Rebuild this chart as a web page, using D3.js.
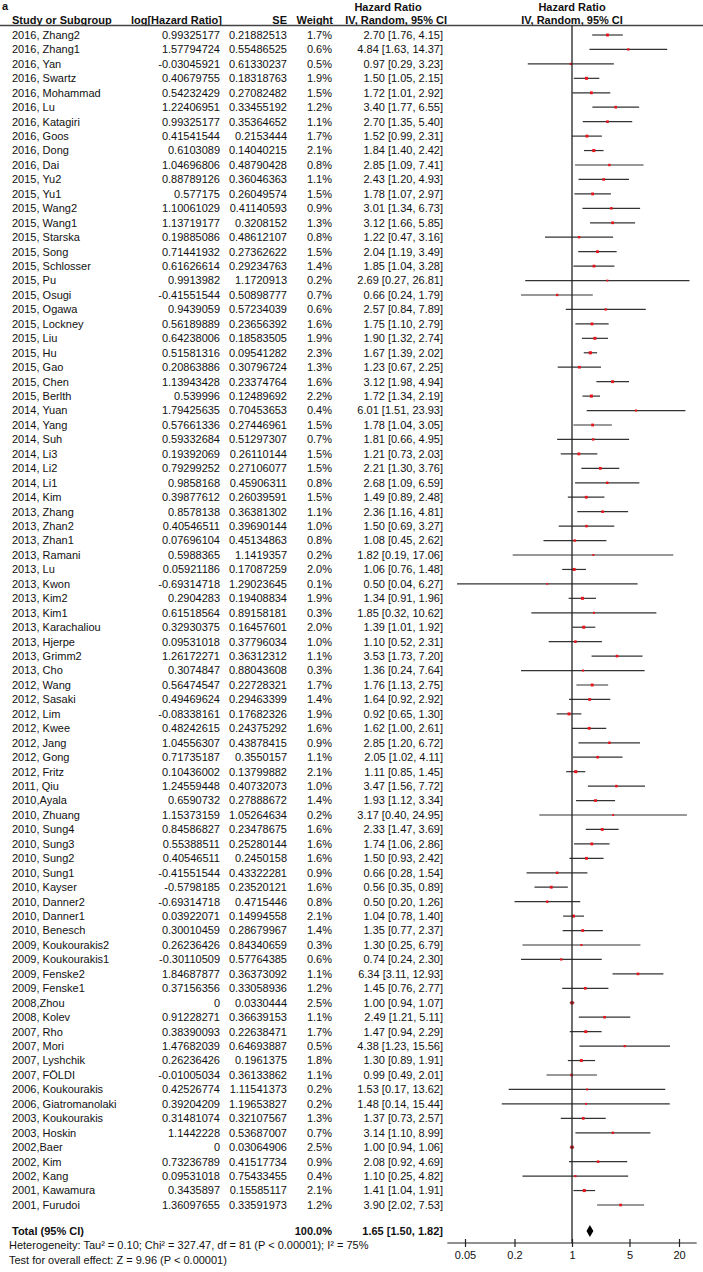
<!DOCTYPE html>
<html>
<head>
<meta charset="utf-8">
<script src="https://cdn.jsdelivr.net/npm/d3@7"></script>
<style>
  body { margin: 0; background: #fff; }
  text { font-family: "Liberation Sans", Arial, sans-serif; font-size: 11px; fill: #111; }
  .bold { font-weight: bold; }
</style>
</head>
<body>
<div id="chart"></div>
<script>
// study data
const studies = [
  "2016, Zhang2", "2016, Zhang1", "2016, Yan", "2016, Swartz", "2016, Mohammad", "2016, Lu",
  "2016, Katagiri", "2016, Goos", "2016, Dong", "2016, Dai", "2015, Yu2", "2015, Yu1",
  "2015, Wang2", "2015, Wang1", "2015, Starska", "2015, Song", "2015, Schlosser", "2015, Pu",
  "2015, Osugi", "2015, Ogawa", "2015, Lockney", "2015, Liu", "2015, Hu", "2015, Gao",
  "2015, Chen", "2015, Berlth", "2014, Yuan", "2014, Yang", "2014, Suh", "2014, Li3",
  "2014, Li2", "2014, Li1", "2014, Kim", "2013, Zhang", "2013, Zhan2", "2013, Zhan1",
  "2013, Ramani", "2013, Lu", "2013, Kwon", "2013, Kim2", "2013, Kim1", "2013, Karachaliou",
  "2013, Hjerpe", "2013, Grimm2", "2013, Cho", "2012, Wang", "2012, Sasaki", "2012, Lim",
  "2012, Kwee", "2012, Jang", "2012, Gong", "2012, Fritz", "2011, Qiu", "2010,Ayala",
  "2010, Zhuang", "2010, Sung4", "2010, Sung3", "2010, Sung2", "2010, Sung1", "2010, Kayser",
  "2010, Danner2", "2010, Danner1", "2010, Benesch", "2009, Koukourakis2", "2009, Koukourakis1",
  "2009, Fenske2", "2009, Fenske1", "2008,Zhou", "2008, Kolev", "2007, Rho", "2007, Mori",
  "2007, Lyshchik", "2007, FÖLDI", "2006, Koukourakis", "2006, Giatromanolaki",
  "2003, Koukourakis", "2003, Hoskin", "2002,Baer", "2002, Kim", "2002, Kang",
  "2001, Kawamura", "2001, Furudoi"
];
const logHR = [
  0.99325177, 1.57794724, -0.03045921, 0.40679755, 0.54232429, 1.22406951,
  0.99325177, 0.41541544, 0.6103089, 1.04696806, 0.88789126, 0.577175,
  1.10061029, 1.13719177, 0.19885086, 0.71441932, 0.61626614, 0.9913982,
  -0.41551544, 0.9439059, 0.56189889, 0.64238006, 0.51581316, 0.20863886,
  1.13943428, 0.539996, 1.79425635, 0.57661336, 0.59332684, 0.19392069,
  0.79299252, 0.9858168, 0.39877612, 0.8578138, 0.40546511, 0.07696104,
  0.5988365, 0.05921186, -0.69314718, 0.2904283, 0.61518564, 0.32930375,
  0.09531018, 1.26172271, 0.3074847, 0.56474547, 0.49469624, -0.08338161,
  0.48242615, 1.04556307, 0.71735187, 0.10436002, 1.24559448, 0.6590732,
  1.15373159, 0.84586827, 0.55388511, 0.40546511, -0.41551544, -0.5798185,
  -0.69314718, 0.03922071, 0.30010459, 0.26236426, -0.30110509,
  1.84687877, 0.37156356, 0, 0.91228271, 0.38390093, 1.47682039,
  0.26236426, -0.01005034, 0.42526774, 0.39204209,
  0.31481074, 1.1442228, 0, 0.73236789, 0.09531018,
  0.3435897, 1.36097655
];
const se = [
  0.21882513, 0.55486525, 0.61330237, 0.18318763, 0.27082482, 0.33455192,
  0.35364652, 0.2153444, 0.14040215, 0.48790428, 0.36046363, 0.26049574,
  0.41140593, 0.3208152, 0.48612107, 0.27362622, 0.29234763, 1.1720913,
  0.50898777, 0.57234039, 0.23656392, 0.18583505, 0.09541282, 0.30796724,
  0.23374764, 0.12489692, 0.70453653, 0.27446961, 0.51297307, 0.26110144,
  0.27106077, 0.45906311, 0.26039591, 0.36381302, 0.39690144, 0.45134863,
  1.1419357, 0.17087259, 1.29023645, 0.19408834, 0.89158181, 0.16457601,
  0.37796034, 0.36312312, 0.88043608, 0.22728321, 0.29463399, 0.17682326,
  0.24375292, 0.43878415, 0.3550157, 0.13799882, 0.40732073, 0.27888672,
  1.05264634, 0.23478675, 0.25280144, 0.2450158, 0.43322281, 0.23520121,
  0.4715446, 0.14994558, 0.28679967, 0.84340659, 0.57764385,
  0.36373092, 0.33058936, 0.0330444, 0.36639153, 0.22638471, 0.64693887,
  0.1961375, 0.36133862, 1.11541373, 1.19653827,
  0.32107567, 0.53687007, 0.03064906, 0.41517734, 0.75433455,
  0.15585117, 0.33591973
];
const weight = [
  1.7, 0.6, 0.5, 1.9, 1.5, 1.2, 1.1, 1.7, 2.1, 0.8, 1.1, 1.5,
  0.9, 1.3, 0.8, 1.5, 1.4, 0.2, 0.7, 0.6, 1.6, 1.9, 2.3, 1.3,
  1.6, 2.2, 0.4, 1.5, 0.7, 1.5, 1.5, 0.8, 1.5, 1.1, 1.0, 0.8,
  0.2, 2.0, 0.1, 1.9, 0.3, 2.0, 1.0, 1.1, 0.3, 1.7, 1.4, 1.9,
  1.6, 0.9, 1.1, 2.1, 1.0, 1.4, 0.2, 1.6, 1.6, 1.6, 0.9, 1.6,
  0.8, 2.1, 1.4, 0.3, 0.6, 1.1, 1.2, 2.5, 1.1, 1.7, 0.5,
  1.8, 1.1, 0.2, 0.2, 1.3, 0.7, 2.5, 0.9, 0.4, 2.1, 1.2
];
const hr = [
  2.70, 4.84, 0.97, 1.50, 1.72, 3.40, 2.70, 1.52, 1.84, 2.85, 2.43, 1.78,
  3.01, 3.12, 1.22, 2.04, 1.85, 2.69, 0.66, 2.57, 1.75, 1.90, 1.67, 1.23,
  3.12, 1.72, 6.01, 1.78, 1.81, 1.21, 2.21, 2.68, 1.49, 2.36, 1.50, 1.08,
  1.82, 1.06, 0.50, 1.34, 1.85, 1.39, 1.10, 3.53, 1.36, 1.76, 1.64, 0.92,
  1.62, 2.85, 2.05, 1.11, 3.47, 1.93, 3.17, 2.33, 1.74, 1.50, 0.66, 0.56,
  0.50, 1.04, 1.35, 1.30, 0.74, 6.34, 1.45, 1.00, 2.49, 1.47, 4.38,
  1.30, 0.99, 1.53, 1.48, 1.37, 3.14, 1.00, 2.08, 1.10, 1.41, 3.90
];
const ciLow = [
  1.76, 1.63, 0.29, 1.05, 1.01, 1.77, 1.35, 0.99, 1.40, 1.09, 1.20, 1.07,
  1.34, 1.66, 0.47, 1.19, 1.04, 0.27, 0.24, 0.84, 1.10, 1.32, 1.39, 0.67,
  1.98, 1.34, 1.51, 1.04, 0.66, 0.73, 1.30, 1.09, 0.89, 1.16, 0.69, 0.45,
  0.19, 0.76, 0.04, 0.91, 0.32, 1.01, 0.52, 1.73, 0.24, 1.13, 0.92, 0.65,
  1.00, 1.20, 1.02, 0.85, 1.56, 1.12, 0.40, 1.47, 1.06, 0.93, 0.28, 0.35,
  0.20, 0.78, 0.77, 0.25, 0.24, 3.11, 0.76, 0.94, 1.21, 0.94, 1.23,
  0.89, 0.49, 0.17, 0.14, 0.73, 1.10, 0.94, 0.92, 0.25, 1.04, 2.02
];
const ciHigh = [
  4.15, 14.37, 3.23, 2.15, 2.92, 6.55, 5.40, 2.31, 2.42, 7.41, 4.93, 2.97,
  6.73, 5.85, 3.16, 3.49, 3.28, 26.81, 1.79, 7.89, 2.79, 2.74, 2.02, 2.25,
  4.94, 2.19, 23.93, 3.05, 4.95, 2.03, 3.76, 6.59, 2.48, 4.81, 3.27, 2.62,
  17.06, 1.48, 6.27, 1.96, 10.62, 1.92, 2.31, 7.20, 7.64, 2.75, 2.92, 1.30,
  2.61, 6.72, 4.11, 1.45, 7.72, 3.34, 24.95, 3.69, 2.86, 2.42, 1.54, 0.89,
  1.26, 1.40, 2.37, 6.79, 2.30, 12.93, 2.77, 1.07, 5.11, 2.29, 15.56,
  1.91, 2.01, 13.62, 15.44, 2.57, 8.99, 1.06, 4.69, 4.82, 1.91, 7.53
];

// pooled result
const totalHR = 1.65, totalLow = 1.50, totalHigh = 1.82, totalWeight = 100.0;
const xTicks = [0.05, 0.2, 1, 5, 20];
const heterogeneity = "Heterogeneity: Tau² = 0.10; Chi² = 327.47, df = 81 (P < 0.00001); I² = 75%";
const overallTest = "Test for overall effect: Z = 9.96 (P < 0.00001)";

const width = 703, height = 1272;
const svg = d3.select('#chart').append('svg')
  .attr('width', width)
  .attr('height', height);

const rowY = d3.scaleLinear().domain([0, studies.length - 1]).range([35, 1205]);
const x = d3.scaleLog().domain([0.05, 20]).range([465, 679]);
const boxSize = d3.scaleSqrt().domain([0, 2.5]).range([1.4, 3.2]);
const fmt2 = d3.format('.2f');
const ciText = (m, l, h) => fmt2(m) + ' [' + fmt2(l) + ', ' + fmt2(h) + ']';

const totalY = 1231;
const axisY = 1243;

// headers
svg.append('text').attr('class', 'bold').attr('x', 2).attr('y', 10)
  .text('a');
svg.append('text').attr('class', 'bold').attr('x', 388).attr('y', 11)
  .attr('text-anchor', 'middle').text('Hazard Ratio');
svg.append('text').attr('class', 'bold').attr('x', x(1)).attr('y', 11)
  .attr('text-anchor', 'middle').text('Hazard Ratio');

const head = [
  { t: 'Study or Subgroup', x: 12, a: 'start' },
  { t: 'log[Hazard Ratio]', x: 222, a: 'end' },
  { t: 'SE', x: 287, a: 'end' },
  { t: 'Weight', x: 333, a: 'end' },
  { t: 'IV, Random, 95% CI', x: 447, a: 'end' },
  { t: 'IV, Random, 95% CI', x: x(1), a: 'middle' }
];
svg.selectAll('.head').data(head).enter().append('text')
  .attr('class', 'head bold')
  .attr('x', d => d.x).attr('y', 23.5)
  .attr('text-anchor', d => d.a)
  .text(d => d.t);

svg.append('line')
  .attr('x1', 0).attr('x2', width)
  .attr('y1', 25.5).attr('y2', 25.5)
  .attr('stroke', '#444').attr('stroke-width', 1.3);

// table columns
const rows = svg.selectAll('.row').data(studies).enter().append('g')
  .attr('class', 'row')
  .attr('transform', (d, i) => 'translate(0,' + rowY(i) + ')');

rows.append('text').attr('x', 12).attr('dy', '0.35em').text(d => d);
rows.append('text').attr('x', 220).attr('dy', '0.35em').attr('text-anchor', 'end')
  .text((d, i) => String(logHR[i]));
rows.append('text').attr('x', 287).attr('dy', '0.35em').attr('text-anchor', 'end')
  .text((d, i) => String(se[i]));
rows.append('text').attr('x', 332).attr('dy', '0.35em').attr('text-anchor', 'end')
  .text((d, i) => weight[i].toFixed(1) + '%');
rows.append('text').attr('x', 443).attr('dy', '0.35em').attr('text-anchor', 'end')
  .text((d, i) => ciText(hr[i], ciLow[i], ciHigh[i]));

// reference line at HR = 1
svg.append('line')
  .attr('x1', x(1)).attr('x2', x(1))
  .attr('y1', 25.5).attr('y2', axisY)
  .attr('stroke', '#222').attr('stroke-width', 1.3);

// confidence intervals and point estimates
rows.append('line')
  .attr('x1', (d, i) => x(ciLow[i]))
  .attr('x2', (d, i) => x(ciHigh[i]))
  .attr('stroke', '#333').attr('stroke-width', 1.2);

rows.append('rect')
  .attr('x', (d, i) => x(hr[i]) - boxSize(weight[i]) / 2)
  .attr('y', (d, i) => -boxSize(weight[i]) / 2)
  .attr('width', (d, i) => boxSize(weight[i]))
  .attr('height', (d, i) => boxSize(weight[i]))
  .attr('fill', '#e8141c');

// total row
svg.append('text').attr('class', 'bold').attr('x', 12).attr('y', totalY).attr('dy', '0.35em')
  .text('Total (95% CI)');
svg.append('text').attr('class', 'bold').attr('x', 332).attr('y', totalY).attr('dy', '0.35em')
  .attr('text-anchor', 'end').text(totalWeight.toFixed(1) + '%');
svg.append('text').attr('class', 'bold').attr('x', 443).attr('y', totalY).attr('dy', '0.35em')
  .attr('text-anchor', 'end').text(ciText(totalHR, totalLow, totalHigh));

const dh = 6;
svg.append('path')
  .attr('d', 'M' + x(totalLow) + ',' + totalY +
             'L' + x(totalHR) + ',' + (totalY - dh) +
             'L' + x(totalHigh) + ',' + totalY +
             'L' + x(totalHR) + ',' + (totalY + dh) + 'Z')
  .attr('fill', '#000');

// footnotes
svg.append('text').attr('x', 9).attr('y', 1249).text(heterogeneity);
svg.append('text').attr('x', 9).attr('y', 1264).text(overallTest);

// x axis
const axis = d3.axisBottom(x)
  .tickValues(xTicks)
  .tickFormat(d => String(d))
  .tickSizeInner(4)
  .tickSizeOuter(0);

const gx = svg.append('g')
  .attr('transform', 'translate(0,' + axisY + ')')
  .call(axis);
gx.select('.domain').remove();
gx.selectAll('.tick line').attr('y1', -4).attr('stroke', '#222').attr('stroke-width', 1.2);
gx.selectAll('.tick text').attr('y', 8)
  .style('font-family', '"Liberation Sans", Arial, sans-serif')
  .style('font-size', '11px').attr('fill', '#111');

svg.append('line')
  .attr('x1', x(0.0305)).attr('x2', x(32.8))
  .attr('y1', axisY).attr('y2', axisY)
  .attr('stroke', '#222').attr('stroke-width', 1.2);
</script>
</body>
</html>
